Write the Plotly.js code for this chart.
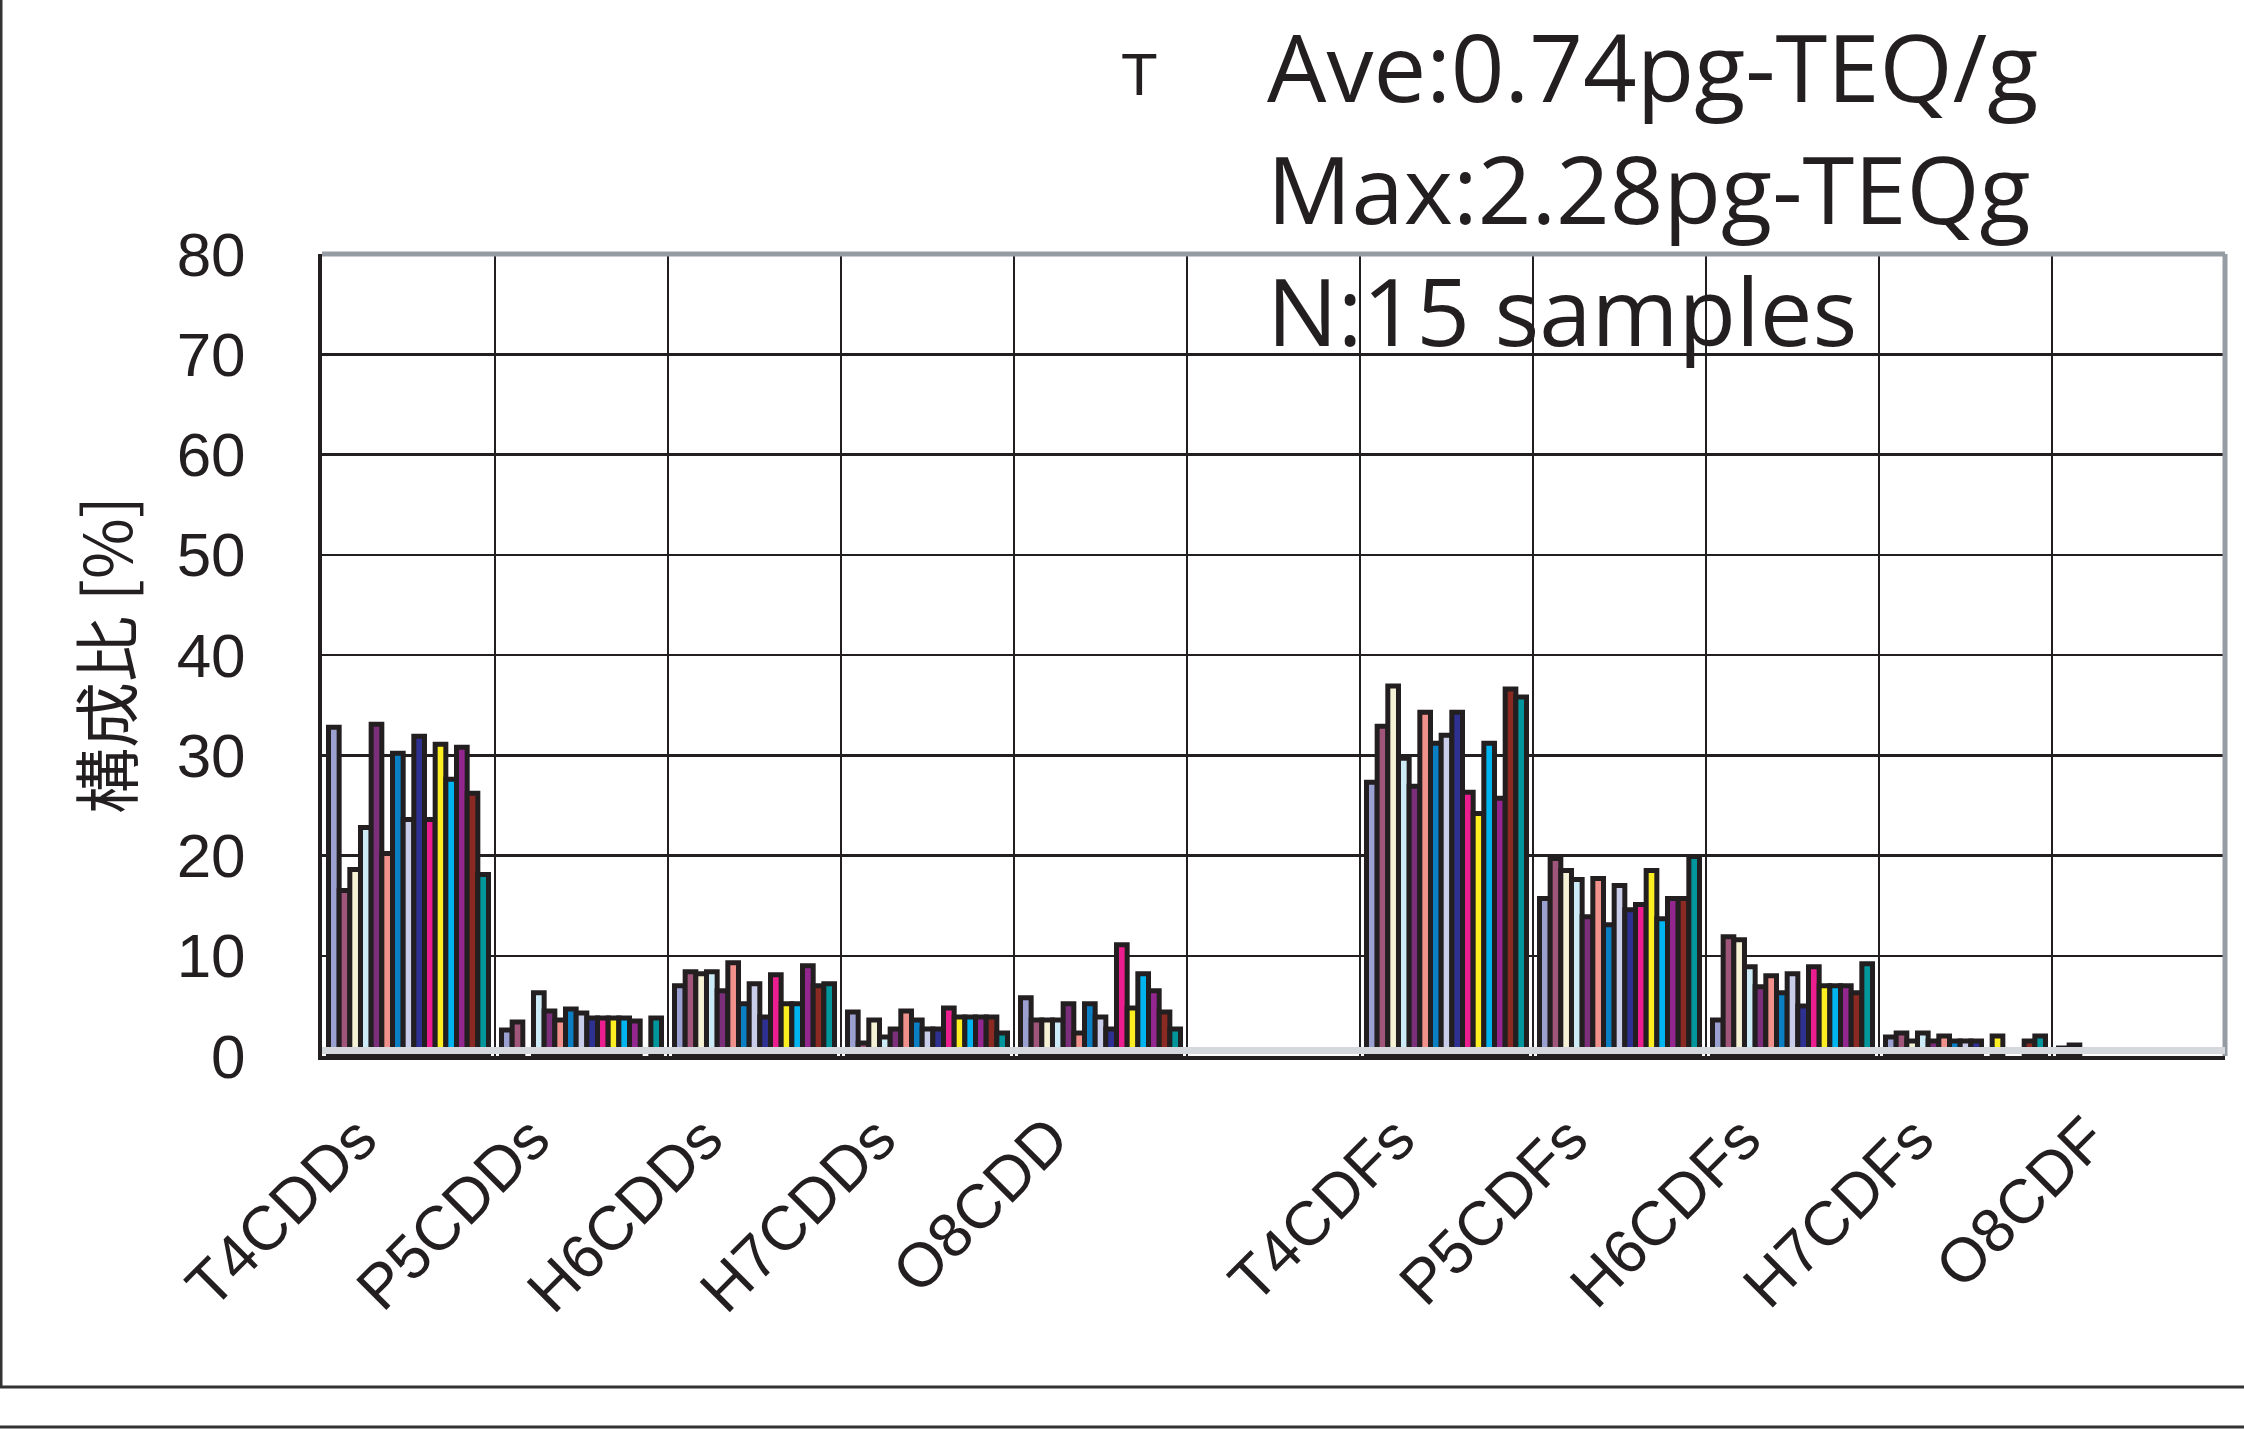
<!DOCTYPE html>
<html>
<head>
<meta charset="utf-8">
<script src="https://cdn.plot.ly/plotly-3.0.1.min.js"></script>
<style>html,body{margin:0;padding:0;background:#fff;}#chart{width:2244px;height:1429px;}</style>
</head>
<body>
<div id="chart"></div>
<script>
// ---- data ----
const categories = ["T4CDDs","P5CDDs","H6CDDs","H7CDDs","O8CDD"," ","T4CDFs","P5CDFs","H6CDFs","H7CDFs","O8CDF"];
const sampleNames = ["1","2","3","4","5","6","7","8","9","10","11","12","13","14","15"];
// composition ratio [%] per sample, one value per category (null = not present)
const s1  = [32.8, 2.6, 7.0, 4.4, 5.8, null, 27.3, 15.7, 3.6, 1.9, 0.8];
const s2  = [16.5, 3.4, 8.4, 1.3, 3.6, null, 32.9, 19.7, 11.9, 2.3, 1.1];
const s3  = [18.6, null, 8.2, 3.6, 3.6, null, 36.9, 18.5, 11.6, 1.5, null];
const s4  = [22.8, 6.3, 8.4, 1.9, 3.6, null, 29.7, 17.6, 8.9, 2.3, null];
const s5  = [33.1, 4.5, 6.5, 2.7, 5.2, null, 26.9, 13.9, 6.9, 1.5, null];
const s6  = [20.2, 3.6, 9.3, 4.5, 2.3, null, 34.3, 17.7, 8.0, 2.0, null];
const s7  = [30.2, 4.7, 5.2, 3.6, 5.2, null, 31.2, 13.1, 6.3, 1.5, null];
const s8  = [23.6, 4.3, 7.2, 2.7, 3.9, null, 32.0, 17.0, 8.2, 1.5, null];
const s9  = [31.9, 3.8, 3.9, 2.7, 2.7, null, 34.3, 14.6, 5.0, 1.5, null];
const s10 = [23.6, 3.8, 8.1, 4.8, 11.1, null, 26.3, 15.1, 8.9, null, null];
const s11 = [31.1, 3.8, 5.2, 3.9, 4.8, null, 24.2, 18.5, 7.0, 2.0, null];
const s12 = [27.6, 3.8, 5.2, 3.9, 8.2, null, 31.2, 13.7, 7.0, null, null];
const s13 = [30.8, 3.5, 9.0, 3.9, 6.5, null, 25.7, 15.7, 7.0, null, null];
const s14 = [26.2, null, 7.0, 3.9, 4.4, null, 36.6, 15.7, 6.3, 1.5, null];
const s15 = [18.1, 3.8, 7.2, 2.3, 2.7, null, 35.8, 19.9, 9.2, 2.0, null];
const yTickVals = [0,10,20,30,40,50,60,70,80];
const yTitle = "構成比 [%]";
const noteLines = ["Ave:0.74pg-TEQ/g","Max:2.28pg-TEQg","N:15 samples"];
const noteMark = "T";

// ---- style ----
const series = [s1,s2,s3,s4,s5,s6,s7,s8,s9,s10,s11,s12,s13,s14,s15];
const colors = ["#9aa0d0","#a0557a","#f5f2d5","#cdebf6","#7b2f7b","#f0918b","#0a7fc4","#c9cde9",
                "#2e3192","#ec1d8e","#fcee21","#00b5ef","#93278f","#8b2a22","#00969b"];
const INK = "#231f20";
const W = 2244, H = 1429;
const M = {l:322, r:19, t:254, b:373};
const PW = W - M.l - M.r, PH = H - M.t - M.b;
const px2x = p => (p - M.l) / PW;
const px2y = p => (H - M.b - p) / PH;
const labelShift = 0.29; // category label offset (fraction of a category)
const catIdx = categories.map((c, i) => i);

const traces = series.map((vals, i) => ({
  type: "bar",
  name: sampleNames[i],
  x: categories,
  y: vals,
  marker: {color: colors[i], line: {color: INK, width: 5}},
  showlegend: false,
  hoverinfo: "x+y+name"
}));
// invisible carrier for the category label axis
traces.push({type: "scatter", mode: "markers", x: catIdx, y: catIdx.map(() => null),
             xaxis: "x2", yaxis: "y", showlegend: false, hoverinfo: "skip"});

const layout = {
  width: W, height: H,
  margin: M,
  paper_bgcolor: "#ffffff",
  plot_bgcolor: "#ffffff",
  barmode: "group",
  bargap: 0.075,
  bargroupgap: 0,
  font: {family: "Liberation Sans, Arial, sans-serif", color: INK},
  xaxis: {
    type: "category",
    categoryorder: "array",
    categoryarray: categories,
    range: [-0.5, categories.length - 0.5],
    tickson: "boundaries",
    showgrid: true, gridcolor: INK, gridwidth: 2.5,
    ticks: "", showticklabels: false,
    showline: true, linecolor: INK, linewidth: 4,
    fixedrange: true
  },
  xaxis2: {
    type: "linear",
    overlaying: "x", anchor: "y", side: "bottom",
    range: [-0.5 + labelShift, categories.length - 0.5 + labelShift],
    tickvals: catIdx, ticktext: categories,
    showgrid: false, zeroline: false, showline: false, ticks: "",
    tickangle: -45,
    tickfont: {family: "Liberation Sans, Arial, sans-serif", size: 62, color: INK},
    ticklabelstandoff: 33,
    fixedrange: true
  },
  yaxis: {
    range: [0, 80],
    tickvals: yTickVals,
    showgrid: true, gridcolor: INK, gridwidth: 2.5,
    zeroline: false,
    ticks: "",
    tickfont: {family: "Liberation Sans, Arial, sans-serif", size: 62, color: INK},
    ticklabelstandoff: 60,
    showline: true, linecolor: INK, linewidth: 4,
    title: {text: yTitle, font: {family: "Noto Sans CJK JP, sans-serif", size: 66, color: INK}, standoff: 24},
    fixedrange: true
  },
  shapes: [
    // plot frame (grey top/right)
    {type:"line", xref:"paper", yref:"paper", x0:0, x1:1, y0:1, y1:1, line:{color:"#959ca3", width:5}},
    {type:"line", xref:"paper", yref:"paper", x0:1, x1:1, y0:0, y1:1, line:{color:"#959ca3", width:5}},
    // floor band
    {type:"rect", xref:"paper", yref:"paper", x0:0, x1:1, y0:px2y(1054), y1:px2y(1047), fillcolor:"#d5d8dc", line:{width:0}, layer:"above"},
    // outer page frame lines
    {type:"line", xref:"paper", yref:"paper", x0:px2x(1), x1:px2x(1), y0:px2y(0), y1:px2y(1387), line:{color:"#333", width:3}},
    {type:"line", xref:"paper", yref:"paper", x0:px2x(0), x1:px2x(W), y0:px2y(1387), y1:px2y(1387), line:{color:"#333", width:3}},
    {type:"line", xref:"paper", yref:"paper", x0:px2x(0), x1:px2x(W), y0:px2y(1427), y1:px2y(1427), line:{color:"#333", width:3}}
  ],
  annotations: [
    {xref:"paper", yref:"paper", x:px2x(1139), y:px2y(75), xanchor:"center", yanchor:"middle",
     text: noteMark, showarrow:false, font:{family:"Liberation Sans, Arial, sans-serif", size:60, color:INK}},
    {xref:"paper", yref:"paper", x:px2x(1266), y:px2y(1), xanchor:"left", yanchor:"top", align:"left",
     text: noteLines.join("<br>"), showarrow:false, borderpad:0,
     font:{family:"Open Sans, sans-serif", size:94, color:INK}}
  ]
};

Plotly.newPlot("chart", traces, layout, {displayModeBar:false, staticPlot:true});
</script>
</body>
</html>
